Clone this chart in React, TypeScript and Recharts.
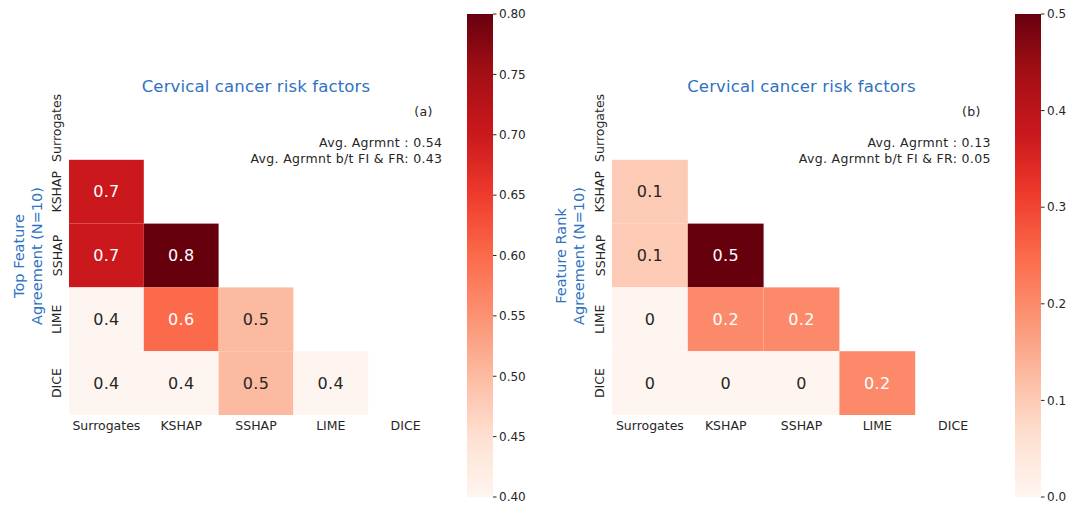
import React from "react";
import { ScatterChart, Scatter, XAxis, YAxis, BarChart, Bar } from "recharts";

const methods = ["Surrogates", "KSHAP", "SSHAP", "LIME", "DICE"];

// lower triangle rows (row index 1..4), values per column
const featureAgreement = [
  [0.7],
  [0.7, 0.8],
  [0.4, 0.6, 0.5],
  [0.4, 0.4, 0.5, 0.4],
];
const rankAgreement = [
  [0.1],
  [0.1, 0.5],
  [0, 0.2, 0.2],
  [0, 0, 0, 0.2],
];

const ticksA = [0.4, 0.45, 0.5, 0.55, 0.6, 0.65, 0.7, 0.75, 0.8];
const ticksB = [0, 0.1, 0.2, 0.3, 0.4, 0.5];

const REDS = ["#fff5f0", "#fee0d2", "#fcbba1", "#fc9272", "#fb6a4a", "#ef3b2c", "#cb181d", "#a50f15", "#67000d"];
const FONT = "DejaVu Sans, sans-serif";
const INK = "#262626";
const BLUE = "#2f72c2";

const hex = (h: string) => [1, 3, 5].map((i) => parseInt(h.slice(i, i + 2), 16));

function reds(t: number) {
  const c = Math.max(0, Math.min(1, t)) * (REDS.length - 1);
  const i = Math.min(Math.floor(c), REDS.length - 2);
  const f = c - i;
  const a = hex(REDS[i]);
  const b = hex(REDS[i + 1]);
  return a.map((v, k) => Math.round(v + (b[k] - v) * f));
}

function textColor(rgb: number[]) {
  const lin = rgb.map((v) => {
    const s = v / 255;
    return s <= 0.03928 ? s / 12.92 : Math.pow((s + 0.055) / 1.055, 2.4);
  });
  const lum = 0.2126 * lin[0] + 0.7152 * lin[1] + 0.0722 * lin[2];
  return lum > 0.408 ? INK : "#ffffff";
}

function toCells(rows: number[][]) {
  const out: { x: number; y: number; v: number }[] = [];
  rows.forEach((r, ri) => r.forEach((v, ci) => out.push({ x: ci + 0.5, y: ri + 1.5, v })));
  return out;
}

const H = 506;
const TOP = 96;
const BOTTOM = 415;

function Heatmap({ rows, vmin, vmax, left, yw }: { rows: number[][]; vmin: number; vmax: number; left: number; yw: number }) {
  const width = 460;
  const right = width - yw - (left === 0 ? 374 : 379);
  const cw = (width - yw - right) / 5;
  const ch = (BOTTOM - TOP) / 5;
  const cells = toCells(rows);
  const shape = (p: any) => {
    const rgb = reds((p.payload.v - vmin) / (vmax - vmin));
    return (
      <g>
        <rect x={p.cx - cw / 2} y={p.cy - ch / 2} width={cw} height={ch} fill={`rgb(${rgb.join(",")})`} />
        <text x={p.cx} y={p.cy} dy="0.36em" textAnchor="middle" fontSize={16} letterSpacing={0.3} fontFamily={FONT} fill={textColor(rgb)}>
          {String(p.payload.v)}
        </text>
      </g>
    );
  };
  const xTick = (p: any) => (
    <text x={p.x} y={p.y} dy="0.71em" textAnchor="middle" fontSize={12.5} fontFamily={FONT} fill={INK}>
      {methods[Math.floor(p.payload.value)]}
    </text>
  );
  const yTick = (p: any) => (
    <text x={p.x} y={p.y} transform={`rotate(-90 ${p.x} ${p.y})`} textAnchor="middle" fontSize={12.5} fontFamily={FONT} fill={INK}>
      {methods[Math.floor(p.payload.value)]}
    </text>
  );
  return (
    <div style={{ position: "absolute", left, top: 0 }}>
      <ScatterChart width={width} height={H} margin={{ top: TOP, right, bottom: H - BOTTOM - 30, left: 0 }}>
        <XAxis type="number" dataKey="x" domain={[0, 5]} ticks={[0.5, 1.5, 2.5, 3.5, 4.5]} tick={xTick} axisLine={false} tickLine={false} tickSize={0} tickMargin={5.7} height={30} interval={0} />
        <YAxis type="number" dataKey="y" domain={[0, 5]} reversed ticks={[0.5, 1.5, 2.5, 3.5, 4.5]} tick={yTick} axisLine={false} tickLine={false} tickSize={0} tickMargin={7.5} width={yw} interval={0} />
        <Scatter data={cells} shape={shape} isAnimationActive={false} />
      </ScatterChart>
    </div>
  );
}

function ColorBar({ vmin, vmax, ticks, digits, left, width, gid }: { vmin: number; vmax: number; ticks: number[]; digits: number; left: number; width: number; gid: string }) {
  const data = [{ name: "cb", range: [vmin, vmax] }];
  return (
    <div style={{ position: "absolute", left, top: 0 }}>
      <BarChart width={width} height={H} data={data} margin={{ top: 14, right: width - 7 - 26 - 28, bottom: 9, left: 7 }} barCategoryGap={0}>
        <XAxis dataKey="name" hide />
        <YAxis orientation="right" type="number" domain={[vmin, vmax]} ticks={ticks} width={28} axisLine={false} tickSize={3.5} tickMargin={2.5} tickLine={{ stroke: INK }} tick={{ fontSize: 12, fontFamily: FONT, fill: INK }} tickFormatter={(v: number) => v.toFixed(digits)} interval={0} />
        <Bar dataKey="range" fill={`url(#${gid})`} isAnimationActive={false} />
      </BarChart>
    </div>
  );
}

function Texts() {
  const t = { fontFamily: FONT, fill: INK, fontSize: 12.5, letterSpacing: 0.32 } as const;
  const title = { fontFamily: FONT, fill: BLUE, fontSize: 16.5, letterSpacing: 0.15, textAnchor: "middle" } as const;
  const ylab = { fontFamily: FONT, fill: BLUE, fontSize: 14.5, textAnchor: "middle" } as const;
  return (
    <svg width={1076} height={H} style={{ position: "absolute", left: 0, top: 0, pointerEvents: "none" }}>
      <defs>
        {["gA", "gB"].map((id) => (
          <linearGradient key={id} id={id} x1="0" y1="1" x2="0" y2="0">
            {REDS.map((c, i) => (
              <stop key={i} offset={i / (REDS.length - 1)} stopColor={c} />
            ))}
          </linearGradient>
        ))}
      </defs>
      <text x={256} y={92.3} {...title}>Cervical cancer risk factors</text>
      <text x={432.7} y={116} textAnchor="end" {...t}>(a)</text>
      <text x={442.3} y={147.3} textAnchor="end" {...t}>Avg. Agrmnt : 0.54</text>
      <text x={442.3} y={163.3} textAnchor="end" {...t}>Avg. Agrmnt b/t FI &amp; FR: 0.43</text>
      <text x={23.5} y={256} transform="rotate(-90 23.5 256)" {...ylab}>Top Feature</text>
      <text x={41.5} y={256} transform="rotate(-90 41.5 256)" {...ylab}>Agreement (N=10)</text>

      <text x={801.5} y={92.3} {...title}>Cervical cancer risk factors</text>
      <text x={980.7} y={116} textAnchor="end" {...t}>(b)</text>
      <text x={990.7} y={147.3} textAnchor="end" {...t}>Avg. Agrmnt : 0.13</text>
      <text x={990.7} y={163.3} textAnchor="end" {...t}>Avg. Agrmnt b/t FI &amp; FR: 0.05</text>
      <text x={566} y={256} transform="rotate(-90 566 256)" {...ylab}>Feature Rank</text>
      <text x={584} y={256} transform="rotate(-90 584 256)" {...ylab}>Agreement (N=10)</text>
    </svg>
  );
}

export default function App() {
  return (
    <div style={{ position: "absolute", left: 0, top: 0, width: 1076, height: H, background: "#fff", overflow: "hidden" }}>
      <Texts />
      <Heatmap rows={featureAgreement} vmin={0.4} vmax={0.8} left={0} yw={69} />
      <Heatmap rows={rankAgreement} vmin={0} vmax={0.5} left={540} yw={72} />
      <ColorBar vmin={0.4} vmax={0.8} ticks={ticksA} digits={2} left={460} width={80} gid="gA" />
      <ColorBar vmin={0} vmax={0.5} ticks={ticksB} digits={1} left={1008} width={68} gid="gB" />
    </div>
  );
}
